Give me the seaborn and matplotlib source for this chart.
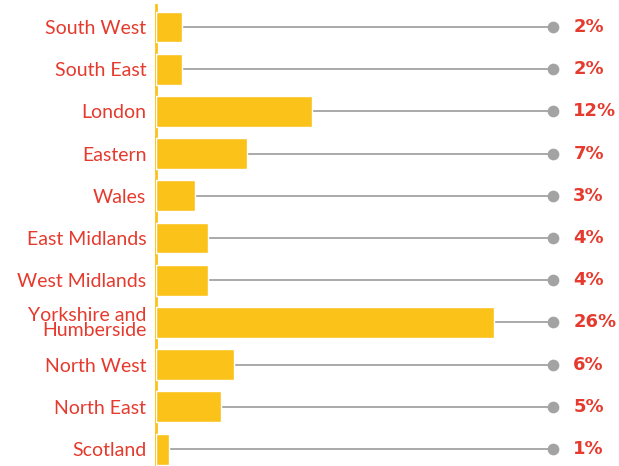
import pandas as pd
import matplotlib
matplotlib.use("Agg")
import matplotlib.pyplot as plt
import seaborn as sns

# data
regions = ["South West", "South East", "London", "Eastern", "Wales",
           "East Midlands", "West Midlands", "Yorkshire and\nHumberside",
           "North West", "North East", "Scotland"]
shares = [2, 2, 12, 7, 3, 4, 4, 26, 6, 5, 1]

df = pd.DataFrame({"region": regions, "share": shares})

sns.set_style("white")
plt.rcParams["font.family"] = ["Lato", "DejaVu Sans"]

red = "#E53A2D"
yellow = "#FBC21A"
grey = "#A3A3A3"

fig = plt.figure(figsize=(6.19, 4.66), dpi=100)
ax = fig.add_axes([156 / 619, 0, 1 - 156 / 619, 1 - 5 / 466])

# grey leader lines with a dot at the end
dot_x = 30.5
ax.hlines(range(len(regions)), 0, dot_x, color=grey, lw=1.3, zorder=1)
ax.scatter([dot_x] * len(regions), range(len(regions)), s=55, color=grey, zorder=2)

sns.barplot(data=df, x="share", y="region", orient="h", color=yellow,
            width=0.73, saturation=1, ax=ax, zorder=3)

for i, v in enumerate(shares):
    ax.text(32.1, i, f"{v}%", color=red, fontsize=13, fontweight="bold",
            va="center", ha="left", family=["DejaVu Sans"])

ax.set_xlim(0, (619 - 156) / 13)
ax.set_ylim(10.4, -0.52)
ax.set_xlabel("")
ax.set_ylabel("")
ax.set_xticks([])
ax.tick_params(axis="y", length=0, pad=7)
for lab in ax.get_yticklabels():
    lab.set_color(red)
    lab.set_fontsize(14)
    lab.set_linespacing(0.85)

for s in ["top", "right", "bottom"]:
    ax.spines[s].set_visible(False)
ax.spines["left"].set_color(yellow)
ax.spines["left"].set_linewidth(2)

fig.savefig("out.png", dpi=100)
